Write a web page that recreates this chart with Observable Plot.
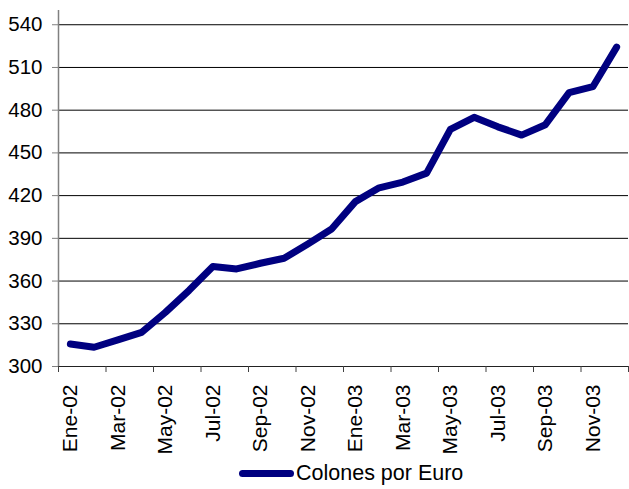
<!DOCTYPE html>
<html>
<head>
<meta charset="utf-8">
<script src="https://cdn.jsdelivr.net/npm/d3@7"></script>
<script src="https://cdn.jsdelivr.net/npm/@observablehq/plot@0.6"></script>
<style>
  html, body { margin: 0; padding: 0; background: #fff; }
  #chart { width: 629px; font-family: "Liberation Sans", Arial, sans-serif; }
  .legend { height: 31px; display: flex; align-items: center; justify-content: flex-start; padding-left: 239px; font-size: 21.5px; color: #000; }
  .legend .sw { width: 55px; height: 7px; background: #000080; border-radius: 4px; margin-right: 2px; }
</style>
</head>
<body>
<div id="chart"></div>
<script>
const months = ["Ene-02","Feb-02","Mar-02","Abr-02","May-02","Jun-02","Jul-02","Ago-02","Sep-02","Oct-02","Nov-02","Dic-02",
                "Ene-03","Feb-03","Mar-03","Abr-03","May-03","Jun-03","Jul-03","Ago-03","Sep-03","Oct-03","Nov-03","Dic-03"];
const values = [315.8, 313.5, 318.7, 324.0, 338.0, 353.5, 370.2, 368.5, 372.5, 376.0, 386.0, 396.5,
                415.8, 425.5, 429.5, 435.8, 466.5, 475.0, 468.3, 462.5, 469.8, 492.3, 496.5, 524.3];
const yTicks = [300, 330, 360, 390, 420, 450, 480, 510, 540];
const seriesName = "Colones por Euro";

const data = months.map((m, i) => ({i, month: m, value: values[i]}));
const boundaryTicks = d3.range(-0.5, months.length, 2);
const labelTicks = d3.range(0, months.length, 2);

const plot = Plot.plot({
  width: 629,
  height: 458,
  marginLeft: 58,
  marginRight: 1,
  marginTop: 10,
  marginBottom: 92,
  style: {fontFamily: "Liberation Sans, Arial, sans-serif", fontSize: "20px", color: "#000", background: "#fff"},
  x: {type: "linear", domain: [-0.5, months.length - 0.5]},
  y: {domain: [300, 550]},
  marks: [
    Plot.gridY(yTicks.slice(1), {stroke: "#000", strokeOpacity: 1, strokeWidth: 1}),
    Plot.ruleX([-0.5], {y1: 300, y2: 550, stroke: "#808080", strokeWidth: 1.5}),
    Plot.ruleY([300], {stroke: "#222", strokeWidth: 1.2}),
    Plot.axisY(yTicks, {tickSize: 6, tickPadding: 10, stroke: "#808080", fontSize: 20.5, label: null}),
    Plot.axisX(boundaryTicks, {tickSize: 6, tickFormat: () => "", stroke: "#404040", label: null}),
    Plot.axisX(labelTicks, {tickSize: 0, tickPadding: 18, tickRotate: -90, tickFormat: i => months[i], fontSize: 21, label: null}),
    Plot.line(data, {x: "i", y: "value", stroke: "#000080", strokeWidth: 7, strokeLinejoin: "round", strokeLinecap: "round"})
  ]
});

const chart = document.getElementById("chart");
chart.appendChild(plot);
const legend = document.createElement("div");
legend.className = "legend";
legend.innerHTML = '<span class="sw"></span><span>' + seriesName + '</span>';
chart.appendChild(legend);
</script>
</body>
</html>
